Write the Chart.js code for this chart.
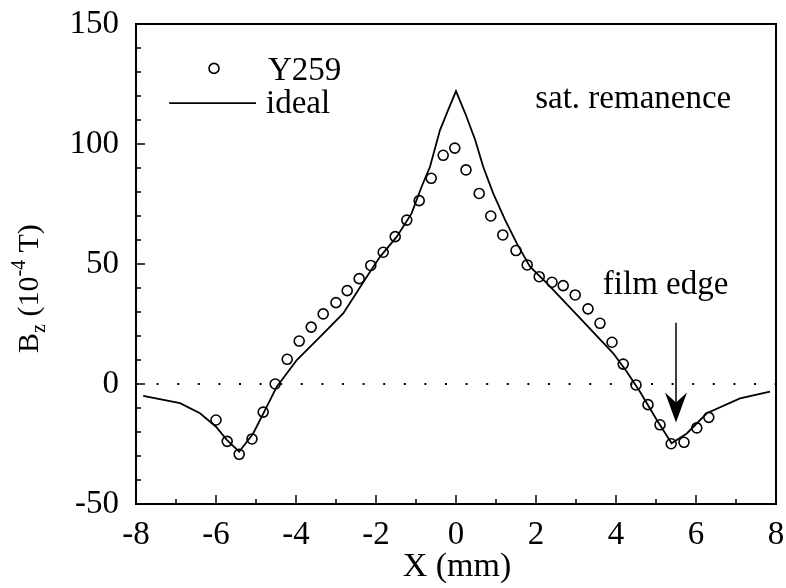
<!DOCTYPE html>
<html>
<head>
<meta charset="utf-8">
<script src="https://cdn.jsdelivr.net/npm/chart.js@4/dist/chart.umd.min.js"></script>
<style>
  html, body { margin: 0; padding: 0; background: #fff; }
  #wrap { width: 786px; height: 588px; }
</style>
</head>
<body>
<div id="wrap"><canvas id="bzChart" width="786" height="588"></canvas></div>
<script>
// Mesures Y259 (X en mm, Bz en 1e-4 T)
const scanX = [-6.0, -5.72, -5.42, -5.1, -4.82, -4.52, -4.22, -3.92, -3.62, -3.32, -3.0, -2.72, -2.42, -2.13,
    -1.82, -1.52, -1.23, -0.92, -0.62, -0.32, -0.03, 0.25, 0.58, 0.87, 1.17, 1.5, 1.78, 2.08, 2.4, 2.68,
    2.98, 3.3, 3.6, 3.9, 4.18, 4.5, 4.8, 5.1, 5.38, 5.7, 6.02, 6.32];
const scanY = [-15, -23.9, -29.3, -22.9, -11.7, 0, 10.3, 17.9, 23.7, 29.2, 33.9, 38.9, 43.9, 49.4,
    54.9, 61.4, 68.3, 76.4, 85.7, 95.3, 98.3, 89.2, 79.4, 70, 62.1, 55.6, 49.6, 44.7, 42.4, 41,
    37.1, 31.3, 25.3, 17.4, 8.3, -0.4, -8.6, -17, -24.9, -24.3, -18.3, -13.9];

// Courbe idéale
const idealX = [-7.82, -6.9, -6.4, -6.0, -5.73, -5.42, -5.07, -4.73, -4.48, -3.98, -3.48, -2.82, -2.23, -1.9,
    -1.48, -1.11, -0.86, -0.65, -0.4, -0.2, 0, 0.23, 0.48, 0.68, 0.93, 1.23, 1.52, 1.85, 2.27, 3.1,
    3.93, 4.27, 4.6, 5.02, 5.39, 5.77, 6.27, 7.1, 7.85];
const idealY = [-4.9, -8, -12.2, -17.8, -23.3, -28.2, -20.6, -9.4, -1.1, 10, 18.3, 29.4, 44.7, 53,
    61.4, 71.1, 82.2, 90.5, 105.8, 114, 122, 112.8, 101.7, 90.5, 79.4, 68.3, 58.6, 48.9, 42, 27.4,
    12.8, 5.1, -3.2, -15, -24.7, -20.6, -12.2, -6, -3.2];

// Graduations
const xTicks = [-8, -6, -4, -2, 0, 2, 4, 6, 8];
const yTicks = [-50, 0, 50, 100, 150];
const xMinorStep = 1;
const yMinorStep = 10;

// Bord du film
const edgeX = 5.5;

const FONT = '"Liberation Serif", "Times New Roman", serif';

function toPoints(xs, ys) {
    return xs.map((x, i) => ({ x: x, y: ys[i] }));
}

// Cadre, graduations intérieures, légende et annotations
const framePlugin = {
    id: 'frame',
    afterDatasetsDraw(chart) {
        const ctx = chart.ctx;
        const xs = chart.scales.x;
        const ys = chart.scales.y;
        const area = chart.chartArea;
        const px = v => xs.getPixelForValue(v);
        const py = v => ys.getPixelForValue(v);

        ctx.save();
        ctx.strokeStyle = '#000';
        ctx.fillStyle = '#000';

        // graduations
        ctx.lineWidth = 1.5;
        ctx.beginPath();
        for (let v = xs.min; v <= xs.max; v += xMinorStep) {
            const len = (v % 2 === 0) ? 9 : 5;
            ctx.moveTo(px(v), area.bottom);
            ctx.lineTo(px(v), area.bottom - len);
        }
        for (let v = ys.min; v <= ys.max; v += yMinorStep) {
            const len = (v % 50 === 0) ? 9 : 5;
            ctx.moveTo(area.left, py(v));
            ctx.lineTo(area.left + len, py(v));
        }
        ctx.stroke();

        // cadre
        ctx.lineWidth = 2;
        ctx.strokeRect(area.left, area.top, area.right - area.left, area.bottom - area.top);

        // légende
        const scan = chart.data.datasets[1];
        ctx.lineWidth = scan.borderWidth;
        ctx.beginPath();
        ctx.arc(px(-6.05), py(131.5), scan.pointRadius, 0, Math.PI * 2);
        ctx.stroke();
        ctx.lineWidth = chart.data.datasets[0].borderWidth;
        ctx.beginPath();
        ctx.moveTo(px(-7.17), py(117));
        ctx.lineTo(px(-5.0), py(117));
        ctx.stroke();

        ctx.font = '33px ' + FONT;
        ctx.textAlign = 'left';
        ctx.textBaseline = 'alphabetic';
        ctx.fillText(scan.label, px(-4.7), py(126.5));
        ctx.fillText(chart.data.datasets[0].label, px(-4.75), py(113));

        // annotations
        ctx.fillText('sat. remanence', px(1.98), py(115));
        ctx.fillText('film edge', px(3.67), py(37.5));

        // flèche
        const ax = px(edgeX);
        const tipY = py(-16);
        ctx.lineWidth = 1.5;
        ctx.beginPath();
        ctx.moveTo(ax, py(25.5));
        ctx.lineTo(ax, tipY - 10);
        ctx.stroke();
        ctx.beginPath();
        ctx.moveTo(ax, tipY);
        ctx.lineTo(ax - 11, tipY - 30);
        ctx.lineTo(ax, tipY - 20);
        ctx.lineTo(ax + 11, tipY - 30);
        ctx.closePath();
        ctx.fill();

        // titre axe X
        ctx.font = '34px ' + FONT;
        ctx.textAlign = 'center';
        ctx.fillText('X (mm)', (area.left + area.right) / 2 + 1, 576);

        // titre axe Y : B_z (10^-4 T)
        ctx.translate(38, 353);
        ctx.rotate(-Math.PI / 2);
        ctx.textAlign = 'left';
        const big = '30px ' + FONT;
        const small = '20px ' + FONT;
        const parts = [
            { t: 'B', f: big, dy: 0 },
            { t: 'z', f: small, dy: 7 },
            { t: ' (10', f: big, dy: 0 },
            { t: '-4', f: small, dy: -13 },
            { t: ' T)', f: big, dy: 0 }
        ];
        let cx = 0;
        parts.forEach(p => {
            ctx.font = p.f;
            ctx.fillText(p.t, cx, p.dy);
            cx += ctx.measureText(p.t).width;
        });

        ctx.restore();
    }
};

function initChart() {
    const ctx = document.getElementById('bzChart').getContext('2d');

    new Chart(ctx, {
        type: 'scatter',
        data: {
            datasets: [
                {
                    label: 'ideal',
                    data: toPoints(idealX, idealY),
                    showLine: true,
                    borderColor: '#000',
                    borderWidth: 1.8,
                    pointRadius: 0,
                    tension: 0,
                    order: 2
                },
                {
                    label: 'Y259',
                    data: toPoints(scanX, scanY),
                    showLine: false,
                    borderColor: '#000',
                    backgroundColor: 'rgba(0,0,0,0)',
                    borderWidth: 1.6,
                    pointRadius: 5,
                    pointStyle: 'circle',
                    order: 1
                },
                {
                    label: 'zero',
                    data: [{ x: -8, y: 0 }, { x: 8, y: 0 }],
                    showLine: true,
                    borderColor: '#000',
                    borderWidth: 2,
                    borderDash: [2, 18.6],
                    pointRadius: 0,
                    order: 3
                }
            ]
        },
        options: {
            responsive: false,
            animation: false,
            layout: { padding: { top: 24, right: 10, left: 0, bottom: 0 } },
            plugins: {
                legend: { display: false },
                tooltip: { enabled: false }
            },
            scales: {
                x: {
                    type: 'linear',
                    min: -8,
                    max: 8,
                    grid: { display: false, drawTicks: false },
                    border: { display: false },
                    afterBuildTicks: s => { s.ticks = xTicks.map(v => ({ value: v })); },
                    afterFit: s => {
                        s.height = 84;
                        s.paddingLeft = 0;
                        s.paddingRight = 0;
                    },
                    ticks: {
                        padding: 12,
                        color: '#000',
                        maxRotation: 0,
                        font: { family: FONT, size: 33 }
                    }
                },
                y: {
                    type: 'linear',
                    min: -50,
                    max: 150,
                    grid: { display: false, drawTicks: false },
                    border: { display: false },
                    afterBuildTicks: s => { s.ticks = yTicks.map(v => ({ value: v })); },
                    afterFit: s => {
                        s.width = 136;
                        s.paddingTop = 0;
                        s.paddingBottom = 0;
                    },
                    ticks: {
                        padding: 17,
                        color: '#000',
                        font: { family: FONT, size: 33 }
                    }
                }
            }
        },
        plugins: [framePlugin]
    });
}

document.addEventListener('DOMContentLoaded', initChart);
</script>
</body>
</html>
